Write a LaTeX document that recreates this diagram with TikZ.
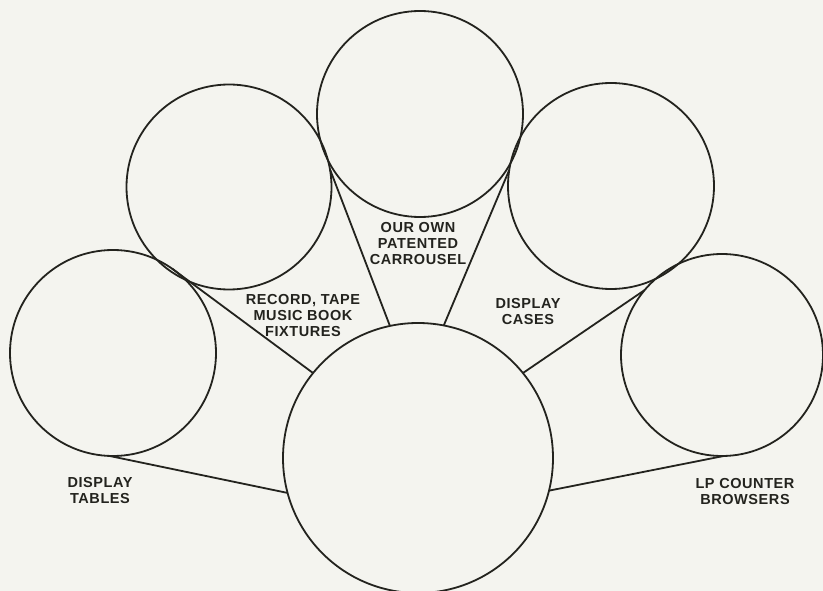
\documentclass[tikz,border=0pt]{standalone}
\usepackage{fontspec}
\setsansfont{Liberation Sans}[LetterSpace=4]
\usepackage{tikz}
\definecolor{paper}{RGB}{244,244,239}
\definecolor{ink}{RGB}{35,35,30}

\begin{document}
\begin{tikzpicture}[x=1pt, y=-1pt, color=ink, line width=1.8pt,
  c/.style={draw, circle, inner sep=0pt, outer sep=0pt},
  t/.style={align=center, inner sep=0pt, font=\sffamily\bfseries\fontsize{14.5}{16}\selectfont}]
  \fill[paper] (0,0) rectangle (823,591);
  \useasboundingbox (0,0) rectangle (823,591);
  % outer ring of fixtures
  \node[c, minimum size=206pt] (tab) at (113,353) {};
  \node[c, minimum size=205pt] (rec) at (229,187) {};
  \node[c, minimum size=206pt] (car) at (420,114) {};
  \node[c, minimum size=206pt] (cas) at (611,186) {};
  \node[c, minimum size=202pt] (lp) at (722,355) {};
  \node[c, minimum size=270pt] (hub) at (418,458) {};
  \draw (tab.268)--(hub.195); \draw (tab.55)--(hub.141);
  \draw (rec.10)--(hub.102); \draw (cas.171)--(hub.79);
  \draw (lp.140)--(hub.39); \draw (lp.271)--(hub.-14);
  \node[t] (lcar) at (418,244) {OUR OWN\\PATENTED\\CARROUSEL};
  \node[t] (lrec) at (303,316) {RECORD, TAPE\\MUSIC BOOK\\FIXTURES};
  \node[t] (lcas) at (528,312) {DISPLAY\\CASES};
  \node[t] (ltab) at (100,491) {DISPLAY\\TABLES};
  \node[t] (llp) at (745,492) {LP COUNTER\\BROWSERS};
\end{tikzpicture}
\end{document}
